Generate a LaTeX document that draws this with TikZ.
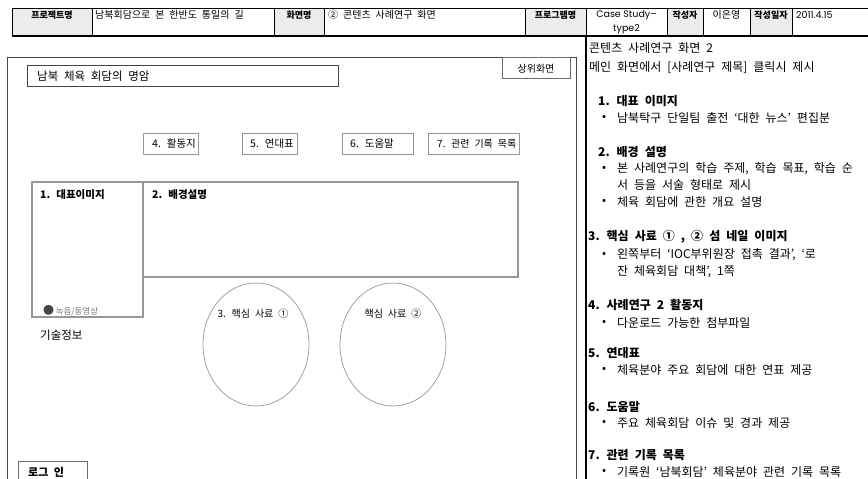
\documentclass[tikz,border=0pt]{standalone}
\usepackage{fontspec}
\setmainfont{Noto Sans CJK KR}[WordSpace=2.2]
\newfontfamily\latinfont{Poppins}
\usepackage{tikz}
\usetikzlibrary{shapes}
\definecolor{hdrgray}{RGB}{236,236,236}
\definecolor{framegray}{RGB}{70,70,70}
\definecolor{boxgray}{RGB}{150,150,150}
\definecolor{notegray}{RGB}{120,120,120}
\tikzstyle{hdrcell} = [draw=black, line width=0.8pt]
\tikzstyle{hdrlabel} = [hdrcell, fill=hdrgray]
\tikzstyle{hdrtext} = [font=\fontsize{10}{14}\selectfont]
\tikzstyle{btn} = [draw=boxgray, line width=0.9pt]
\tikzstyle{pane} = [draw=boxgray, line width=1.1pt]
\tikzstyle{srcoval} = [draw=boxgray, line width=0.7pt, ellipse, minimum width=106pt, minimum height=123pt]
\tikzstyle{rpitem} = [anchor=west, font=\fontsize{12}{14}\selectfont]
\tikzstyle{rphead} = [anchor=west, font=\fontsize{12}{14}\selectfont\bfseries]

\begin{document}
\begin{tikzpicture}[x=1pt,y=-1pt]
	\tikzstyle{every node}=[font=\fontsize{11.5}{13}\selectfont, inner sep=0pt]
	\useasboundingbox (0,0) rectangle (868,479);
	
	% ------------------- Header table ------------------- %
	\draw[hdrlabel] (12,8) rectangle (92,36);
	\draw[hdrcell] (92,8) rectangle (274,36);
	\draw[hdrlabel] (274,8) rectangle (324,36);
	\draw[hdrcell] (324,8) rectangle (525,36);
	\draw[hdrlabel] (525,8) rectangle (586,36);
	\draw[hdrcell] (586,8) rectangle (667,36);
	\draw[hdrlabel] (667,8) rectangle (703,36);
	\draw[hdrcell] (703,8) rectangle (750,36);
	\draw[hdrlabel] (750,8) rectangle (792,36);
	\draw[hdrcell] (792,8) rectangle (874,36);
	\draw[line width=1.4pt] (12,36) -- (874,36);
	
	\node[hdrtext, font=\fontsize{9}{14}\selectfont\bfseries] (hProj) at (52,15) {프로젝트명};
	\node[hdrtext, anchor=west] (hProjVal) at (95,15) {남북회담으로 본 한반도 통일의 길};
	\node[hdrtext, font=\fontsize{9}{14}\selectfont\bfseries] (hScr) at (299,15) {화면명};
	\node[hdrtext, anchor=west] (hScrVal) at (328,15) {② 콘텐츠 사례연구 화면};
	\node[hdrtext, font=\fontsize{9}{14}\selectfont\bfseries] (hProg) at (555.5,15) {프로그램명};
	\node[hdrtext, font=\latinfont\fontsize{9.5}{14}\selectfont, align=center] (hProgVal) at (626.5,22) {Case Study–\\type2};
	\node[hdrtext, font=\fontsize{9}{14}\selectfont\bfseries] (hAuth) at (685,15) {작성자};
	\node[hdrtext] (hAuthVal) at (726.5,15) {이은영};
	\node[hdrtext, font=\fontsize{9}{14}\selectfont\bfseries] (hDate) at (771,15) {작성일자};
	\node[hdrtext, font=\latinfont\fontsize{9.5}{14}\selectfont, anchor=west] (hDateVal) at (796,15) {2011.4.15};
	
	% ------------------- Screen frame ------------------- %
	\draw[draw=framegray, line width=0.9pt] (7,490) -- (7,57) -- (576,57) -- (576,490);
	\draw[line width=1.1pt] (586,36) -- (586,490);
	
	\draw[draw=framegray, line width=0.8pt] (27,65) rectangle (338,86);
	\node[anchor=west] (title) at (37,76) {남북 체육 회담의 명암};
	
	\draw[btn, draw=framegray!80] (502,57) rectangle (570,78);
	\node[font=\fontsize{10}{12}\selectfont] (upper) at (536,68.5) {상위화면};
	
	% ------------------- Buttons ------------------- %
	\draw[btn] (143,133) rectangle (198,154);
	\draw[btn] (242,133) rectangle (297,154);
	\draw[btn] (342,133) rectangle (413,154);
	\draw[btn] (428,133) rectangle (519,154);
	\node[anchor=west, font=\fontsize{10.5}{12}\selectfont] (bAct) at (152,144) {4. 활동지};
	\node[anchor=west, font=\fontsize{10.5}{12}\selectfont] (bChron) at (250,144) {5. 연대표};
	\node[anchor=west, font=\fontsize{10.5}{12}\selectfont] (bHelp) at (350,144) {6. 도움말};
	\node[anchor=west, font=\fontsize{10}{12}\selectfont] (bRec) at (437,144) {7. 관련 기록 목록};
	
	% ------------------- Content area ------------------- %
	\draw[pane] (32,182) rectangle (143,317);
	\draw[pane] (143,182) rectangle (518,277);
	\node[anchor=west, font=\fontsize{10.5}{12}\selectfont\bfseries] (img) at (40,195) {1. 대표이미지};
	\node[anchor=west, font=\fontsize{10.5}{12}\selectfont\bfseries] (bg) at (152,195) {2. 배경설명};
	\node[anchor=west, font=\fontsize{8.5}{10}\selectfont, text=notegray] (media) at (43,311) {\textcolor{framegray}{\fontsize{11}{10}\selectfont●}\kern1.5pt 녹음/동영상};
	\node[anchor=west] (tech) at (40,335) {기술정보};
	
	\node[srcoval] (src1) at (256,344.5) {};
	\node[srcoval] (src2) at (393,344.5) {};
	\node[font=\fontsize{10}{12}\selectfont] (src1txt) at (253,314) {3. 핵심 사료 ①};
	\node[font=\fontsize{10}{12}\selectfont] (src2txt) at (393,314) {핵심 사료 ②};
	
	\draw[btn, draw=framegray!80] (18,461) rectangle (87,490);
	\node[anchor=west, font=\fontsize{11}{12}\selectfont\bfseries] (login) at (28,472) {로그 인};
	
	% ------------------- Description panel ------------------- %
	\node[rpitem] (dTitle) at (589,48) {콘텐츠 사례연구 화면 2};
	\node[rpitem] (dCall) at (589,68) {메인 화면에서 [사례연구 제목] 클릭시 제시};
	
	\node[rphead] (d1) at (598,101) {1. 대표 이미지};
	\node[rphead] (d2) at (598,152) {2.  배경 설명};
	\node[rphead] (d3) at (588,237) {3. 핵심 사료 ① , ② 섬 네일 이미지};
	\node[rphead] (d4) at (588,305) {4. 사례연구 2 활동지};
	\node[rphead] (d5) at (588,353) {5. 연대표};
	\node[rphead] (d6) at (588,407) {6. 도움말};
	\node[rphead] (d7) at (588,455) {7. 관련 기록 목록};
	
	\foreach \y/\n in {118/a,169/b,202/c,255/d,323/e,370/f,423/g,472/h}
		\node[rpitem] (bul\n) at (602,\y) {•};
	
	\node[rpitem] (t1) at (617,118) {남북탁구 단일팀 출전 ‘대한 뉴스’ 편집분};
	\node[rpitem] (t2) at (617,169) {본 사례연구의 학습 주제, 학습 목표, 학습 순};
	\node[rpitem] (t2b) at (617,185) {서 등을 서술 형태로 제시};
	\node[rpitem] (t3) at (617,202) {체육 회담에 관한 개요 설명};
	\node[rpitem] (t4) at (617,255) {왼쪽부터 ‘IOC부위원장 접촉 결과’, ‘로};
	\node[rpitem] (t4b) at (617,272) {잔 체육회담 대책’, 1쪽};
	\node[rpitem] (t5) at (617,323) {다운로드 가능한 첨부파일};
	\node[rpitem] (t6) at (617,370) {체육분야 주요 회담에 대한 연표 제공};
	\node[rpitem] (t7) at (617,423) {주요 체육회담 이슈 및 경과 제공};
	\node[rpitem] (t8) at (617,472) {기록원 ‘남북회담’ 체육분야 관련 기록 목록};
	
\end{tikzpicture}
\end{document}
